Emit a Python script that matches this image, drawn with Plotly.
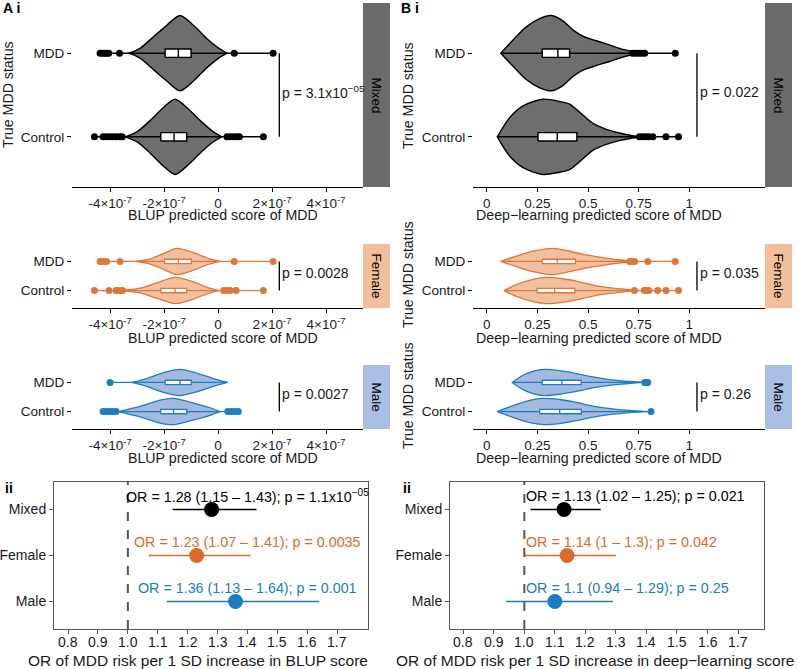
import plotly.graph_objects as go

W, H = 799, 669
FONT = "Liberation Sans, Arial, Helvetica, sans-serif"
TXT = "#1a1a1a"

# ---------------- data ----------------
GROUPS = ["Mixed", "Female", "Male"]
STATUS = ["Control", "MDD"]

# --- A: BLUP predicted score (units of 1e-7); D = relative violin density
A_MIX_MDD_X = [-3.32, -2.89, -2.40, -1.90, -1.41, -0.91, -0.42, -0.05, 0.33]
A_MIX_MDD_D = [0, 0.13, 0.43, 0.74, 1.0, 0.74, 0.39, 0.17, 0]
A_MIX_CON_X = [-3.44, -3.01, -2.52, -2.02, -1.59, -1.10, -0.60, -0.17, 0.14]
A_MIX_CON_D = [0, 0.13, 0.43, 0.78, 1.0, 0.74, 0.39, 0.13, 0]
A_FEM_MDD_X = [-3.07, -2.52, -2.02, -1.53, -0.91, -0.42, 0.07]
A_FEM_MDD_D = [0, 0.2, 0.6, 1.0, 0.67, 0.27, 0]
A_FEM_CON_X = [-3.63, -2.89, -2.27, -1.59, -0.91, -0.42, 0.02]
A_FEM_CON_D = [0, 0.18, 0.59, 1.0, 0.66, 0.25, 0]
A_MAL_MDD_X = [-3.2, -2.64, -2.02, -1.41, -0.79, -0.17, 0.36]
A_MAL_MDD_D = [0, 0.3, 0.75, 1.0, 0.72, 0.3, 0]
A_MAL_CON_X = [-3.69, -2.89, -2.15, -1.65, -0.91, -0.30, 0.07]
A_MAL_CON_D = [0, 0.4, 0.88, 1.0, 0.64, 0.29, 0]

# box quartiles [q1, median, q3] and outliers
A_MIX_MDD_Q = [-1.96, -1.47, -1.0]
A_MIX_CON_Q = [-2.12, -1.63, -1.16]
A_FEM_MDD_Q = [-1.98, -1.47, -0.99]
A_FEM_CON_Q = [-2.12, -1.59, -1.16]
A_MAL_MDD_Q = [-1.96, -1.41, -0.99]
A_MAL_CON_Q = [-2.12, -1.65, -1.16]
A_MIX_MDD_O = [-4.37, -4.28, -4.2, -4.13, -4.05, -3.65, 0.6, 2.04]
A_MIX_CON_O = [-4.58, -4.26, -4.14, -4.02, -3.9, -3.78, -3.65, -3.55, 0.33, 0.45, 0.57, 0.69, 0.79, 1.68]
A_FEM_MDD_O = [-4.37, -4.25, -4.13, -3.63, 0.6, 2.04]
A_FEM_CON_O = [-4.58, -4.04, -3.78, -3.66, -3.54, 0.21, 0.33, 0.45, 0.67, 1.68]
A_MAL_MDD_O = [-4.0]
A_MAL_CON_O = [-4.26, -4.14, -4.02, -3.9, -3.78, 0.36, 0.5, 0.62, 0.75]

# --- B: deep-learning predicted score
B_MIX_MDD_X = [0.069, 0.130, 0.195, 0.261, 0.319, 0.376, 0.425, 0.475, 0.540, 0.606, 0.672, 0.737, 0.786]
B_MIX_MDD_D = [0, 0.35, 0.7, 0.92, 1.0, 0.86, 0.62, 0.45, 0.33, 0.22, 0.1, 0.03, 0]
B_MIX_CON_X = [0.052, 0.113, 0.179, 0.277, 0.360, 0.409, 0.458, 0.524, 0.590, 0.655, 0.721, 0.770]
B_MIX_CON_D = [0, 0.51, 0.82, 1.0, 0.94, 0.87, 0.66, 0.36, 0.2, 0.1, 0.03, 0]
B_FEM_MDD_X = [0.069, 0.146, 0.228, 0.327, 0.409, 0.491, 0.573, 0.639, 0.705, 0.754]
B_FEM_MDD_D = [0, 0.4, 0.78, 1.0, 0.78, 0.5, 0.3, 0.15, 0.04, 0]
B_FEM_CON_X = [0.085, 0.146, 0.228, 0.294, 0.376, 0.442, 0.524, 0.606, 0.688, 0.754]
B_FEM_CON_D = [0, 0.45, 0.85, 1.0, 0.9, 0.72, 0.42, 0.22, 0.08, 0]
B_MAL_MDD_X = [0.126, 0.179, 0.228, 0.285, 0.360, 0.442, 0.524, 0.606, 0.688, 0.770]
B_MAL_MDD_D = [0, 0.55, 0.85, 1.0, 0.9, 0.68, 0.42, 0.22, 0.1, 0]
B_MAL_CON_X = [0.052, 0.130, 0.212, 0.277, 0.360, 0.442, 0.524, 0.622, 0.721, 0.786]
B_MAL_CON_D = [0, 0.45, 0.85, 1.0, 0.92, 0.7, 0.42, 0.2, 0.06, 0]

B_MIX_MDD_Q = [0.274, 0.351, 0.409]
B_MIX_CON_Q = [0.253, 0.348, 0.445]
B_FEM_MDD_Q = [0.274, 0.348, 0.438]
B_FEM_CON_Q = [0.248, 0.335, 0.435]
B_MAL_MDD_Q = [0.274, 0.371, 0.466]
B_MAL_CON_Q = [0.261, 0.360, 0.467]
B_MIX_MDD_O = [0.72, 0.735, 0.75, 0.765, 0.78, 0.931]
B_MIX_CON_O = [0.754, 0.77, 0.785, 0.80, 0.82, 0.885, 0.947]
B_FEM_MDD_O = [0.705, 0.715, 0.73, 0.795, 0.931]
B_FEM_CON_O = [0.729, 0.778, 0.79, 0.80, 0.844, 0.885, 0.947]
B_MAL_MDD_O = [0.78, 0.785, 0.79, 0.795]
B_MAL_CON_O = [0.811]

PVAL_A = ["3.1x10<sup>−05</sup>", "0.0028", "0.0027"]
PVAL_B = ["0.022", "0.035", "0.26"]

A_TICKS = [-4e-7, -2e-7, 0, 2e-7, 4e-7]
A_TICKTEXT = ["-4×10<sup>-7</sup>", "-2×10<sup>-7</sup>", "0", "2×10<sup>-7</sup>", "4×10<sup>-7</sup>"]
B_TICKS = [0, 0.25, 0.5, 0.75, 1]
B_TICKTEXT = ["0", "0.25", "0.5", "0.75", "1"]

# --- forest plots (rows: Mixed, Female, Male)
OR_A = [1.28, 1.23, 1.36]
LO_A = [1.15, 1.07, 1.13]
HI_A = [1.43, 1.41, 1.64]
P_A = ["1.1x10<sup>−05</sup>", "0.0035", "0.001"]
OR_B = [1.13, 1.14, 1.10]
LO_B = [1.02, 1.00, 0.94]
HI_B = [1.25, 1.30, 1.29]
P_B = ["0.021", "0.042", "0.25"]
FOREST_TICKS = [0.8, 0.9, 1.0, 1.1, 1.2, 1.3, 1.4, 1.5, 1.6, 1.7]

# ---------------- styling ----------------
LINE_COL = {"Mixed": "black", "Female": "#E0773A", "Male": "#1F7EC1"}
FILL_COL = {"Mixed": "#6e6e6e", "Female": "#F2C09E", "Male": "#A3B9E0"}
STRIP_COL = {"Mixed": "#6b6b6b", "Female": "#F1BF9B", "Male": "#A9BFE3"}
PT_COL = {"Mixed": "black", "Female": "#DC6A2A", "Male": "#1B7DC0"}


def px_x(p):
    return p / W


def px_y(p):
    return 1 - p / H


A_XPX = (72, 363)
B_XPX = (473, 765)
ROWS_PX = [(3, 187), (244, 308), (365, 429)]
STRIP_W = 27
FOREST_PX = (482, 629)
FA_XPX = (54, 368)
FB_XPX = (450, 764)

A_VIOL = {
    "Mixed": [(A_MIX_CON_X, A_MIX_CON_D, A_MIX_CON_Q, A_MIX_CON_O), (A_MIX_MDD_X, A_MIX_MDD_D, A_MIX_MDD_Q, A_MIX_MDD_O)],
    "Female": [(A_FEM_CON_X, A_FEM_CON_D, A_FEM_CON_Q, A_FEM_CON_O), (A_FEM_MDD_X, A_FEM_MDD_D, A_FEM_MDD_Q, A_FEM_MDD_O)],
    "Male": [(A_MAL_CON_X, A_MAL_CON_D, A_MAL_CON_Q, A_MAL_CON_O), (A_MAL_MDD_X, A_MAL_MDD_D, A_MAL_MDD_Q, A_MAL_MDD_O)],
}
B_VIOL = {
    "Mixed": [(B_MIX_CON_X, B_MIX_CON_D, B_MIX_CON_Q, B_MIX_CON_O), (B_MIX_MDD_X, B_MIX_MDD_D, B_MIX_MDD_Q, B_MIX_MDD_O)],
    "Female": [(B_FEM_CON_X, B_FEM_CON_D, B_FEM_CON_Q, B_FEM_CON_O), (B_FEM_MDD_X, B_FEM_MDD_D, B_FEM_MDD_Q, B_FEM_MDD_O)],
    "Male": [(B_MAL_CON_X, B_MAL_CON_D, B_MAL_CON_Q, B_MAL_CON_O), (B_MAL_MDD_X, B_MAL_MDD_D, B_MAL_MDD_Q, B_MAL_MDD_O)],
}

fig = go.Figure()
layout = dict(
    width=W, height=669, margin=dict(l=0, r=0, t=0, b=0),
    paper_bgcolor="white", plot_bgcolor="white", showlegend=False,
    font=dict(family=FONT, color=TXT),
)
annotations = []
shapes = []

BRACKET = {"A": 2.27e-7, "B": 1.038}
XRANGE = {"A": [-5.41e-7, 5.37e-7], "B": [-0.068, 1.374]}


def paper_text(x, y, text, size, color=TXT, angle=0, xanchor="center"):
    annotations.append(dict(x=px_x(x), y=px_y(y), xref="paper", yref="paper", text=text,
                            textangle=angle, showarrow=False, xanchor=xanchor, yanchor="middle",
                            font=dict(size=size, color=color, family=FONT)))


def add_violin_panel(idx, side, grp, data, row):
    xa = "x" if idx == 1 else f"x{idx}"
    ya = "y" if idx == 1 else f"y{idx}"
    scale = 1e-7 if side == "A" else 1.0
    top, bot = ROWS_PX[row]
    xpx = A_XPX if side == "A" else B_XPX
    lw = 1.4 if row == 0 else 1.3
    bh = 0.05 if row == 0 else 0.075
    lc, fc = LINE_COL[grp], FILL_COL[grp]
    for k, (vx, vd, q, outl) in enumerate(data):
        c = k + 1
        xs = [v * scale for v in vx]
        up = [c + 0.45 * d for d in vd]
        dn = [c - 0.45 * d for d in vd]
        px_ = xs + xs[::-1] + [xs[0]]
        py_ = up + dn[::-1] + [up[0]]
        fig.add_trace(go.Scatter(x=px_, y=py_, mode="lines", fill="toself", fillcolor=fc,
                                 line=dict(color=lc, width=lw, shape="spline", smoothing=0.8),
                                 xaxis=xa, yaxis=ya, hoverinfo="skip"))
        allv = list(outl) + [vx[0], vx[-1]]
        lo, hi = min(allv) * scale, max(allv) * scale
        fig.add_trace(go.Scatter(x=[lo, hi], y=[c, c], mode="lines", line=dict(color=lc, width=lw),
                                 xaxis=xa, yaxis=ya, hoverinfo="skip"))
        q1, md, q3 = [v * scale for v in q]
        fig.add_trace(go.Scatter(x=[q1, q3, q3, q1, q1], y=[c - bh, c - bh, c + bh, c + bh, c - bh],
                                 mode="lines", fill="toself", fillcolor="white",
                                 line=dict(color=lc, width=lw), xaxis=xa, yaxis=ya, hoverinfo="skip"))
        fig.add_trace(go.Scatter(x=[md, md], y=[c - bh, c + bh], mode="lines",
                                 line=dict(color=lc, width=lw), xaxis=xa, yaxis=ya, hoverinfo="skip"))
        fig.add_trace(go.Scatter(x=[o * scale for o in outl], y=[c] * len(outl), mode="markers",
                                 marker=dict(color=lc, size=7), xaxis=xa, yaxis=ya, hoverinfo="skip"))
    # p-value bracket
    bx = BRACKET[side]
    fig.add_trace(go.Scatter(x=[bx, bx], y=[1, 2], mode="lines", line=dict(color="black", width=1.3),
                             xaxis=xa, yaxis=ya, hoverinfo="skip"))
    ptxt = (PVAL_A if side == "A" else PVAL_B)[row]
    annotations.append(dict(x=bx, y=1.5, xref=xa, yref=ya, text="p = " + ptxt, showarrow=False,
                            xanchor="left", yanchor="middle", xshift=1, yshift=3,
                            font=dict(size=14, color=TXT, family=FONT)))
    axkey = "xaxis" if idx == 1 else f"xaxis{idx}"
    aykey = "yaxis" if idx == 1 else f"yaxis{idx}"
    layout[axkey] = dict(
        domain=[px_x(xpx[0]), px_x(xpx[1])], anchor=ya, range=XRANGE[side],
        showline=True, linecolor="black", linewidth=1.2, ticks="outside", ticklen=4,
        tickcolor="black", tickwidth=1, showgrid=False, zeroline=False,
        tickvals=A_TICKS if side == "A" else B_TICKS,
        ticktext=A_TICKTEXT if side == "A" else B_TICKTEXT,
        tickfont=dict(size=13.5, color=TXT, family=FONT),
    )
    layout[aykey] = dict(
        domain=[px_y(bot), px_y(top)], anchor=xa, range=[0.4, 2.6],
        showline=False, ticks="outside", ticklen=4, tickcolor="black", tickwidth=1,
        showgrid=False, zeroline=False, tickvals=[1, 2], ticktext=STATUS,
        tickfont=dict(size=13.5, color=TXT, family=FONT),
    )
    # strip
    shapes.append(dict(type="rect", xref="paper", yref="paper",
                       x0=px_x(xpx[1]), x1=px_x(xpx[1] + STRIP_W), y0=px_y(bot), y1=px_y(top),
                       fillcolor=STRIP_COL[grp], line=dict(width=0), layer="below"))
    paper_text(xpx[1] + STRIP_W / 2, (top + bot) / 2, grp, 13.5, "black", 90)
    # x title
    title = "BLUP predicted score of MDD" if side == "A" else "Deep−learning predicted score of MDD"
    tx = 223 if side == "A" else 599
    ty = {0: 215, 1: 338, 2: 458}[row]
    paper_text(tx, ty, title, 14.2)


idx = 1
for side, viol in (("A", A_VIOL), ("B", B_VIOL)):
    for row, grp in enumerate(GROUPS):
        add_violin_panel(idx, side, grp, viol[grp], row)
        idx += 1


def add_forest(idx, xpx, rng, ors, los, his, ps, centered):
    xa, ya = f"x{idx}", f"y{idx}"
    ys = [3, 2, 1]
    for i, grp in enumerate(GROUPS):
        col = PT_COL[grp]
        fig.add_trace(go.Scatter(x=[los[i], his[i]], y=[ys[i], ys[i]], mode="lines",
                                 line=dict(color=col, width=1.6), xaxis=xa, yaxis=ya, hoverinfo="skip"))
        fig.add_trace(go.Scatter(x=[ors[i]], y=[ys[i]], mode="markers",
                                 marker=dict(color=col, size=15), xaxis=xa, yaxis=ya, hoverinfo="skip"))
        txt = f"OR = {ors[i]:g} ({los[i]:g} – {his[i]:g}); p = {ps[i]}"
        if centered:
            annotations.append(dict(x=1.4, y=ys[i] + 0.3, xref=xa, yref=ya, text=txt, showarrow=False,
                                    xanchor="center", yanchor="middle",
                                    font=dict(size=14.3, color=col, family=FONT)))
        else:
            annotations.append(dict(x=1.0, y=ys[i] + 0.3, xref=xa, yref=ya, text=txt, showarrow=False,
                                    xanchor="left", yanchor="middle", xshift=0,
                                    font=dict(size=14.3, color=col, family=FONT)))
    shapes.append(dict(type="line", xref=xa, yref=f"{ya} domain", x0=1.0, x1=1.0, y0=0, y1=1,
                       line=dict(color="#555555", width=2, dash="dash")))
    # x tick labels placed below the frame
    for t in FOREST_TICKS:
        annotations.append(dict(x=t, y=px_y(642), xref=xa, yref="paper", text=f"{t:.1f}",
                                showarrow=False, xanchor="center", yanchor="middle",
                                font=dict(size=14, color=TXT, family=FONT)))
    layout[f"xaxis{idx}"] = dict(
        domain=[px_x(xpx[0]), px_x(xpx[1])], anchor=ya, range=rng,
        showline=True, mirror=True, linecolor="#555555", linewidth=1, ticks="outside", ticklen=4,
        tickcolor="#555555", showgrid=False, zeroline=False, tickvals=FOREST_TICKS,
        showticklabels=False,
    )
    layout[f"yaxis{idx}"] = dict(
        domain=[px_y(FOREST_PX[1]), px_y(FOREST_PX[0])], anchor=xa, range=[0.4, 3.6],
        showline=True, mirror=True, linecolor="#555555", linewidth=1, ticks="outside", ticklen=4,
        tickcolor="#555555", showgrid=False, zeroline=False, tickvals=[3, 2, 1], ticktext=GROUPS,
        tickfont=dict(size=14, color=TXT, family=FONT),
    )


add_forest(7, FA_XPX, [0.753, 1.803], OR_A, LO_A, HI_A, P_A, True)
add_forest(8, FB_XPX, [0.7565, 1.785], OR_B, LO_B, HI_B, P_B, False)

paper_text(198, 660, "OR of MDD risk per 1 SD increase in BLUP score", 15.5)
paper_text(595, 660, "OR of MDD risk per 1 SD increase in deep−learning score", 15.5)

# y-axis titles
for xx, yy in ((8, 95), (408, 95), (408, 274), (408, 395)):
    paper_text(xx, yy, "True MDD status", 14.2, TXT, -90)

# panel letters
for xx, yy, t in ((1, 8, "A i"), (399, 8, "B i"), (3, 488, "ii"), (401, 488, "ii")):
    paper_text(xx, yy, f"<b>{t}</b>", 14, "black", 0, "left")

layout["annotations"] = annotations
layout["shapes"] = shapes
fig.update_layout(**layout)
fig.write_html("out.html")
